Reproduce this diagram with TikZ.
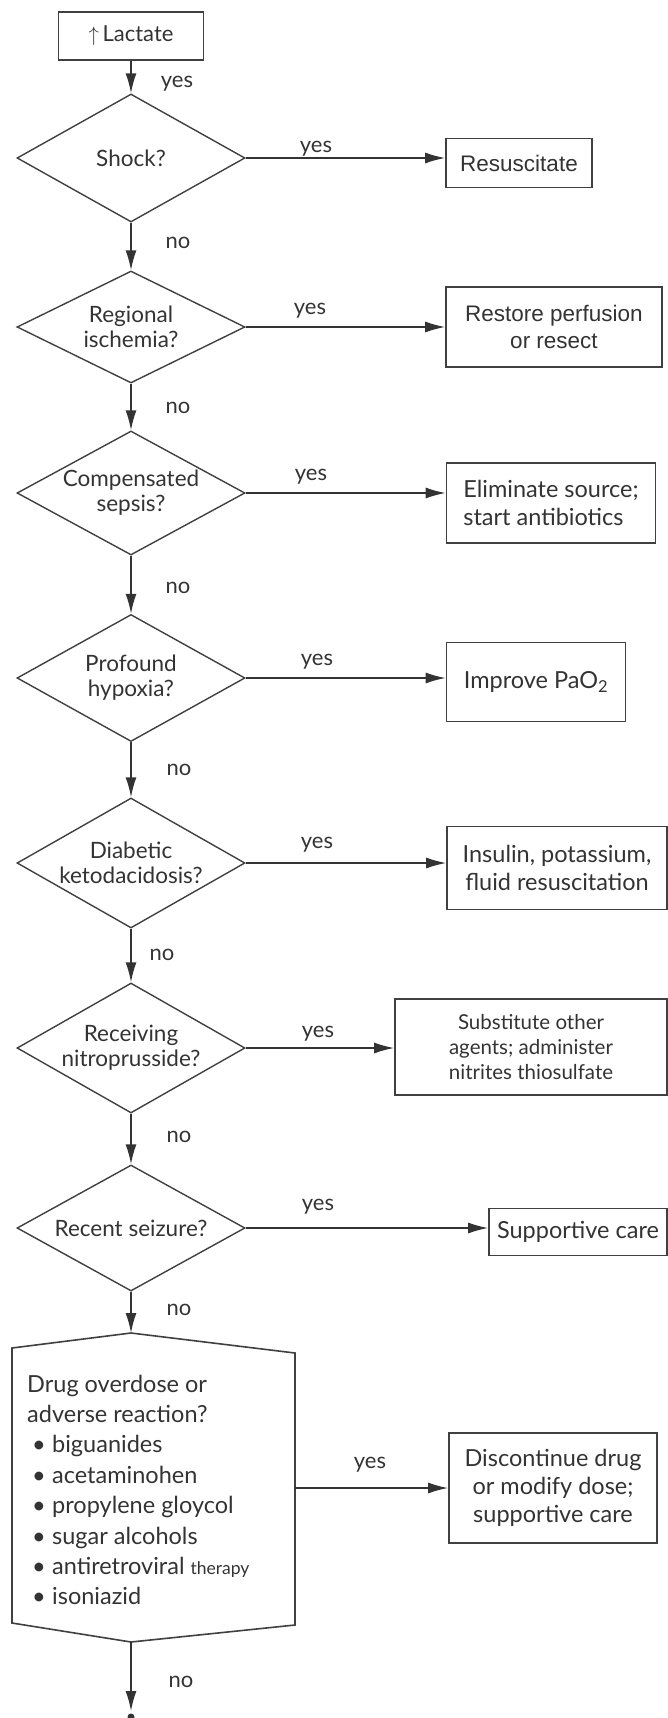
\documentclass[tikz,border=0pt]{standalone}
\usepackage{fontspec}
\setmainfont{Lato}
\newfontfamily\arialf{Liberation Sans}
\usetikzlibrary{shapes.geometric,arrows.meta}
\begin{document}
\begin{tikzpicture}[x=1pt,y=-1pt,
  dec/.style={draw=black!75, line width=1.4pt, shape=diamond, inner sep=0pt, aspect=1.78,
    minimum width=228pt, font=\fontsize{22.5}{25}\selectfont, align=center, text=black!80},
  act/.style={draw=black!75, line width=1.6pt, rectangle, inner sep=0pt,
    font=\fontsize{23.5}{28}\selectfont, align=center, text=black!80},
  arialtxt/.style={font=\arialf\fontsize{22.5}{27}\selectfont},
  lab/.style={font=\fontsize{22}{24}\selectfont, inner sep=0pt, text=black!80},
  arr/.style={draw=black!80, line width=1.6pt, -{Latex[length=20pt,width=11pt]}},
]
\useasboundingbox (0,0) rectangle (668,1718);

% decisions
\node[act, minimum width=145pt, minimum height=48pt, font=\fontsize{22}{26}\selectfont] (lac) at (131,36) {$\uparrow$\,Lactate};
\node[dec, minimum height=128pt] (shock) at (131,158) {Shock?};
\node[dec, minimum height=112pt] (reg) at (131,327) {Regional\\ischemia?};
\node[dec, minimum height=124pt] (comp) at (131,493) {Compensated\\sepsis?};
\node[dec, minimum height=127pt] (prof) at (131,678) {Profound\\hypoxia?};
\node[dec, minimum height=130pt] (diab) at (131,863) {Diabetic\\ketodacidosis?};
\node[dec, minimum height=130pt] (recv) at (131,1048) {Receiving\\nitroprusside?};
\node[dec, minimum height=126pt] (seiz) at (131,1228) {Recent seizure?};

% actions
\node[act, arialtxt, minimum width=146pt, minimum height=49pt] (resus) at (519,163) {Resuscitate};
\node[act, arialtxt, minimum width=216pt, minimum height=80pt] (rest) at (554,327) {Restore perfusion\\or resect};
\node[act, minimum width=209pt, minimum height=80pt, align=left] (elim) at (551,503) {Eliminate source;\\start antibiotics};
\node[act, minimum width=179pt, minimum height=79pt] (impr) at (536,682) {Improve PaO\textsubscript{2}};
\node[act, minimum width=220pt, minimum height=83pt] (insul) at (557,868) {Insulin, potassium,\\fluid resuscitation};
\node[act, minimum width=272pt, minimum height=96pt, font=\fontsize{20.5}{25}\selectfont] (subst) at (531,1047) {Substitute other\\agents; administer\\nitrites thiosulfate};
\node[act, minimum width=178pt, minimum height=47pt] (supp) at (578,1232) {Supportive care};
\node[act, minimum width=208pt, minimum height=110pt] (disc) at (553,1488) {Discontinue drug\\or modify dose;\\supportive care};

% drug box
\coordinate (drugN) at (131,1333);
\coordinate (drugS) at (131,1642);
\coordinate (drugE) at (295,1488);
\coordinate (endpt) at (131,1711);
\draw[black!75, line width=1.6pt] (12,1348) -- (drugN) -- (295,1353) -- (295,1625) -- (drugS) -- (12,1623) -- cycle;
\node[anchor=west, align=left, inner sep=0pt, text=black!80, font=\fontsize{23.5}{30.4}\selectfont] (drugtxt) at (27,1490)
 {Drug overdose or\\
  adverse reaction?\\
  \hspace*{5pt}\makebox[20pt][l]{•}biguanides\\
  \hspace*{5pt}\makebox[20pt][l]{•}acetaminohen\\
  \hspace*{5pt}\makebox[20pt][l]{•}propylene gloycol\\
  \hspace*{5pt}\makebox[20pt][l]{•}sugar alcohols\\
  \hspace*{5pt}\makebox[20pt][l]{•}antiretroviral {\fontsize{17.5}{30.4}\selectfont therapy}\\
  \hspace*{5pt}\makebox[20pt][l]{•}isoniazid};

% vertical arrows
\draw[arr] (lac.south) -- (shock.north);
\draw[arr] (shock.south) -- (reg.north);
\draw[arr] (reg.south) -- (comp.north);
\draw[arr] (comp.south) -- (prof.north);
\draw[arr] (prof.south) -- (diab.north);
\draw[arr] (diab.south) -- (recv.north);
\draw[arr] (recv.south) -- (seiz.north);
\draw[arr] (seiz.south) -- (drugN);
\draw[arr] (drugS) -- (endpt);
\fill[black!80] (131,1717) circle (3.5pt);

% horizontal arrows
\draw[arr] (shock.east) -- (shock.east -| resus.west);
\draw[arr] (reg.east) -- (reg.east -| rest.west);
\draw[arr] (comp.east) -- (comp.east -| elim.west);
\draw[arr] (prof.east) -- (prof.east -| impr.west);
\draw[arr] (diab.east) -- (diab.east -| insul.west);
\draw[arr] (recv.east) -- (recv.east -| subst.west);
\draw[arr] (seiz.east) -- (seiz.east -| supp.west);
\draw[arr] (drugE) -- (drugE -| disc.west);

% labels
\node[lab] at (177,84) {yes};
\node[lab] at (316,149) {yes};
\node[lab] at (310,311) {yes};
\node[lab] at (311,477) {yes};
\node[lab] at (317,662) {yes};
\node[lab] at (317,845) {yes};
\node[lab] at (318,1034) {yes};
\node[lab] at (318,1207) {yes};
\node[lab] at (370,1465) {yes};

\node[lab] at (178,243) {no};
\node[lab] at (178,408) {no};
\node[lab] at (178,588) {no};
\node[lab] at (179,770) {no};
\node[lab] at (162,955) {no};
\node[lab] at (179,1137) {no};
\node[lab] at (179,1310) {no};
\node[lab] at (181,1682) {no};
\end{tikzpicture}
\end{document}
